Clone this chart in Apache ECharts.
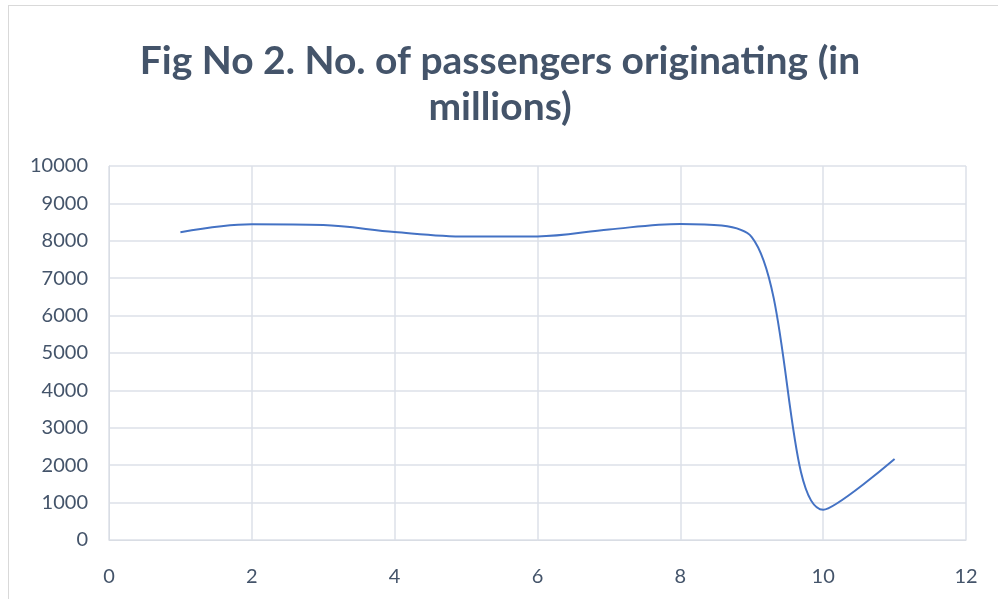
<!DOCTYPE html>
<html>
<head>
<meta charset="utf-8">
<script src="https://cdn.jsdelivr.net/npm/echarts@6/dist/echarts.min.js"></script>
<style>
  html, body { margin: 0; padding: 0; background: #fff; }
  #chart { position: absolute; left: 8px; top: 5px; width: 998px; height: 610px; border: 1px solid #d9d9d9; box-sizing: border-box; }
</style>
</head>
<body>
<div id="chart"></div>
<script>
// x values (years index) and passengers originating (millions)
const xValues = [1, 2, 3, 4, 5, 6, 7, 8, 9, 10, 11];
const passengers = [8227, 8440, 8420, 8236, 8115, 8118, 8305, 8450, 8100, 810, 2167];
const titleText = 'Fig No 2. No. of passengers originating (in\nmillions)';

const chart = echarts.init(document.getElementById('chart'));
chart.setOption({
  animation: false,
  title: {
    text: titleText,
    left: 486,
    textAlign: 'center',
    top: 27,
    textStyle: {
      fontFamily: 'Lato',
      fontWeight: 'bold',
      fontSize: 39,
      lineHeight: 46,
      color: '#44546a'
    }
  },
  grid: { left: 100, right: 39, top: 160, bottom: 74 },
  xAxis: {
    type: 'value',
    min: 0, max: 12, interval: 2,
    axisLine: { show: true, lineStyle: { color: '#d9dde4' } },
    axisTick: { show: false },
    axisLabel: { color: '#44546a', fontFamily: 'Lato', fontSize: 20, margin: 27 },
    splitLine: { show: true, lineStyle: { color: '#dde1e8', width: 1.5 } }
  },
  yAxis: {
    type: 'value',
    min: 0, max: 10000, interval: 1000,
    axisLine: { show: true, lineStyle: { color: '#d9dde4' } },
    axisTick: { show: false },
    axisLabel: { color: '#44546a', fontFamily: 'Lato', fontSize: 20, margin: 21, formatter: v => String(v) },
    splitLine: { show: true, lineStyle: { color: '#dde1e8', width: 1.5 } }
  },
  series: [{
    type: 'line',
    data: xValues.map((x, i) => [x, passengers[i]]),
    smooth: 0.35,
    showSymbol: false,
    lineStyle: { color: '#4472c4', width: 2 }
  }]
});
</script>
</body>
</html>
